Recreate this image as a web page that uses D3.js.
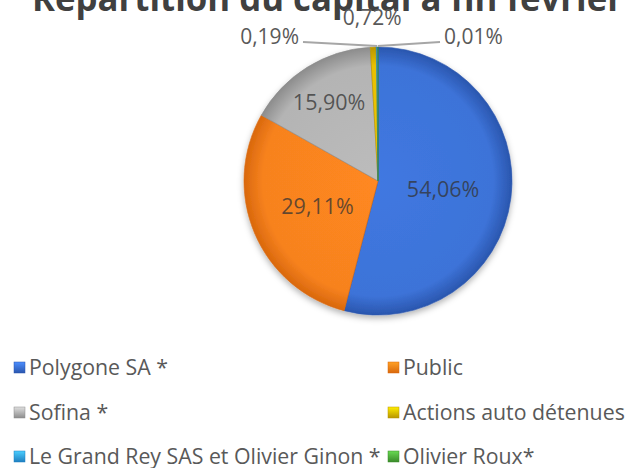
<!DOCTYPE html>
<html><head><meta charset="utf-8">
<script src="https://cdn.jsdelivr.net/npm/d3@7"></script>
<style>body{margin:0;background:#fff} svg{display:block}</style></head>
<body><svg id="c" width="631" height="468"></svg>
<script>
const categories = ["Polygone SA *", "Public", "Sofina *", "Actions auto détenues", "Le Grand Rey SAS et Olivier Ginon *", "Olivier Roux*"];
const values = [54.06, 29.11, 15.90, 0.72, 0.19, 0.01];
const valueLabels = ["54,06%", "29,11%", "15,90%", "0,72%", "0,19%", "0,01%"];
const title = "Répartition du capital à fin février";

const colors = ["#3d73d8", "#f7821f", "#b4b4b4", "#e8c000", "#3ca6e6", "#55b043"];
const edgeColors = ["#2a56ae", "#d9680c", "#8c8c8c", "#b89500", "#1f7fc0", "#3a8a2a"];

const W = 631, H = 468;
const cx = 378, cy = 181, R = 134;
const FONT = "'Open Sans', 'Liberation Sans', sans-serif";

const svg = d3.select("#c");
const defs = svg.append("defs");

const shadow = defs.append("filter").attr("id", "sh").attr("x", "-20%").attr("y", "-20%").attr("width", "140%").attr("height", "140%");
shadow.append("feDropShadow").attr("dx", 0).attr("dy", 3).attr("stdDeviation", 3).attr("flood-color", "#000").attr("flood-opacity", 0.3);

colors.forEach((c, i) => {
  const g = defs.append("radialGradient").attr("id", "rg" + i)
    .attr("gradientUnits", "userSpaceOnUse").attr("cx", 0).attr("cy", 0).attr("r", R);
  g.append("stop").attr("offset", "0%").attr("stop-color", d3.color(c).brighter(0.12));
  g.append("stop").attr("offset", "86%").attr("stop-color", c);
  g.append("stop").attr("offset", "100%").attr("stop-color", edgeColors[i]);
  const lg = defs.append("linearGradient").attr("id", "lg" + i).attr("x1", 0).attr("y1", 0).attr("x2", 0).attr("y2", 1);
  lg.append("stop").attr("offset", "0%").attr("stop-color", d3.color(c).brighter(0.6));
  lg.append("stop").attr("offset", "100%").attr("stop-color", edgeColors[i]);
});

// Title
svg.append("text").attr("x", 32).attr("y", 11).attr("text-anchor", "start")
  .attr("font-family", FONT).attr("font-weight", "bold").attr("font-size", 36)
  .attr("textLength", 591).attr("lengthAdjust", "spacingAndGlyphs")
  .attr("fill", "#404040").text(title);

// Pie
const pie = d3.pie().sort(null).value(d => d).startAngle(0).endAngle(2 * Math.PI);
const arcs = pie(values);
const arc = d3.arc().innerRadius(0).outerRadius(R);

const gp = svg.append("g").attr("transform", `translate(${cx},${cy})`);
gp.append("g").attr("filter", "url(#sh)")
  .selectAll("path").data(arcs).join("path")
  .attr("d", arc)
  .attr("fill", (d, i) => `url(#rg${i})`)
  .attr("stroke", (d, i) => edgeColors[i])
  .attr("stroke-width", 0.6)
  .attr("stroke-linejoin", "round");

// inside labels
const insideFactor = [0.49, 0.49, 0.69];
arcs.slice(0, 3).forEach((d, i) => {
  const a = d3.arc().innerRadius(R * insideFactor[i]).outerRadius(R * insideFactor[i]);
  const [x, y] = a.centroid(d);
  gp.append("text").attr("x", x).attr("y", y).attr("dy", "0.35em")
    .attr("text-anchor", "middle").attr("font-family", FONT).attr("font-size", 21.5)
    .attr("fill", "#333").attr("fill-opacity", 0.75).text(valueLabels[i]);
});

// outside labels
const mid = d => (d.startAngle + d.endAngle) / 2;
const pt = (ang, r) => [r * Math.sin(ang), -r * Math.cos(ang)];

// 0,72% directly above
{
  const d = arcs[3];
  const [x, y] = pt(mid(d), R + 29);
  gp.append("text").attr("x", x).attr("y", y).attr("dy", "0.35em").attr("text-anchor", "middle")
    .attr("font-family", FONT).attr("font-size", 21).attr("fill", "#595959").text(valueLabels[3]);
}
// 0,19% to the left, 0,01% to the right with leader lines
[[4, -1], [5, 1]].forEach(([i, side]) => {
  const d = arcs[i];
  const [ax, ay] = pt(mid(d), R + 1);
  const lx = side < 0 ? -75 : 62;
  const ly = ay - 4;
  gp.append("line").attr("x1", lx).attr("y1", ly).attr("x2", ax).attr("y2", ay)
    .attr("stroke", "#a6a6a6").attr("stroke-width", 2);
  gp.append("text").attr("x", lx + side * 4).attr("y", ly - 5).attr("dy", "0.35em")
    .attr("text-anchor", side < 0 ? "end" : "start")
    .attr("font-family", FONT).attr("font-size", 21).attr("fill", "#595959").text(valueLabels[i]);
});

// Legend
const legX = [14, 388], legY = [368, 413, 457];
categories.forEach((c, i) => {
  const x = legX[i % 2], y = legY[Math.floor(i / 2)];
  svg.append("rect").attr("x", x).attr("y", y - 6).attr("width", 11).attr("height", 11)
    .attr("fill", `url(#lg${i})`).attr("stroke", edgeColors[i]).attr("stroke-width", 0.5);
  svg.append("text").attr("x", x + 15).attr("y", y).attr("dy", "0.35em")
    .attr("font-family", FONT).attr("font-size", 21.3).attr("fill", "#595959").text(c);
});
</script>
</body></html>
